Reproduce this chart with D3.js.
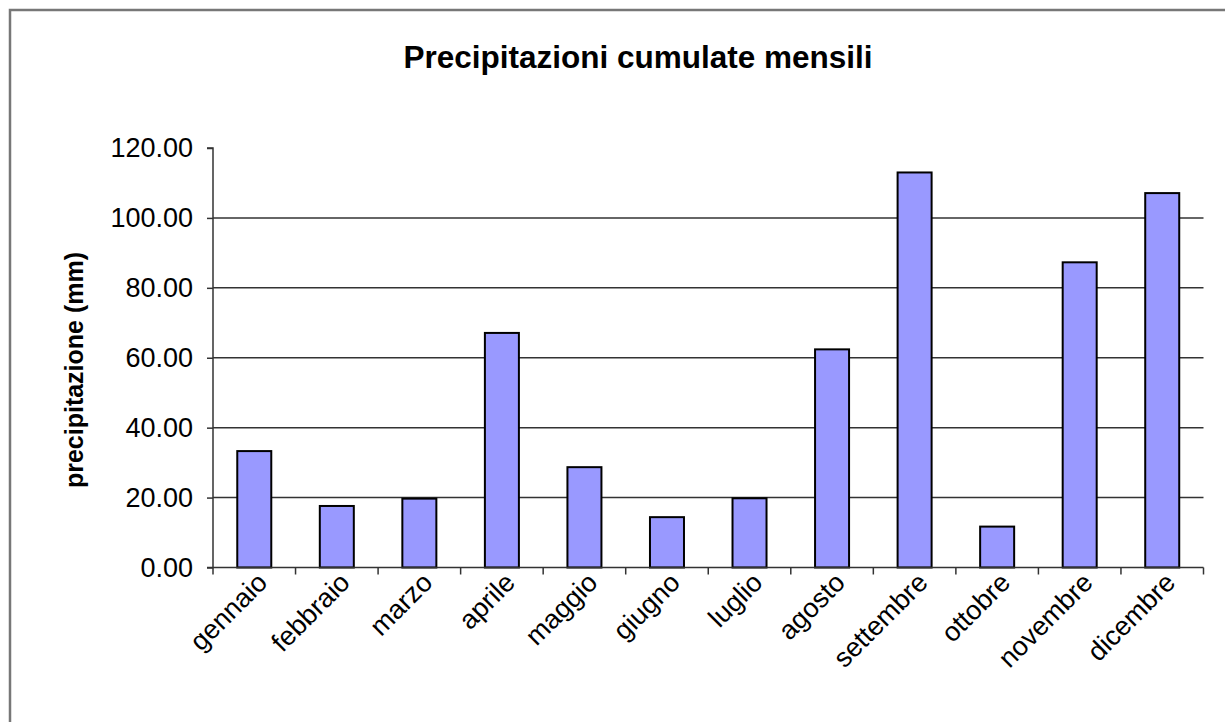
<!DOCTYPE html>
<html>
<head>
<meta charset="utf-8">
<script src="https://cdn.jsdelivr.net/npm/d3@7"></script>
<style>
  html, body { margin: 0; padding: 0; background: #fff; }
  svg { display: block; font-family: "Liberation Sans", Arial, sans-serif; }
</style>
</head>
<body>
<svg id="chart" width="1225" height="722"></svg>
<script>
const months = ["gennaio","febbraio","marzo","aprile","maggio","giugno","luglio","agosto","settembre","ottobre","novembre","dicembre"];
const precipitation = [33.3, 17.6, 19.7, 67.1, 28.7, 14.4, 19.8, 62.4, 113.0, 11.7, 87.3, 107.1];
const yTicks = [0, 20, 40, 60, 80, 100, 120];
const title = "Precipitazioni cumulate mensili";
const yTitle = "precipitazione (mm)";

const svg = d3.select("#chart");
const margin = { left: 213, right: 1203.5, top: 148, bottom: 567.5 };

// outer frame (only top & left visible in reference)
svg.append("path")
  .attr("d", `M10,722 L10,10 L1225,10`)
  .attr("fill", "none").attr("stroke", "#777").attr("stroke-width", 2.5);

const x = d3.scaleBand().domain(months).range([margin.left, margin.right]).paddingInner(0.588).paddingOuter(0.294);
const xTicksScale = d3.scaleBand().domain(months).range([margin.left, margin.right]);
const y = d3.scaleLinear().domain([0, 120]).range([margin.bottom, margin.top]);

// gridlines
svg.append("g").selectAll("line").data(yTicks.filter(d => d > 0 && d < 120)).join("line")
  .attr("x1", margin.left).attr("x2", margin.right)
  .attr("y1", d => y(d)).attr("y2", d => y(d))
  .attr("stroke", "#333").attr("stroke-width", 1.5);

// bars
svg.append("g").selectAll("rect").data(precipitation).join("rect")
  .attr("x", (d, i) => x(months[i]))
  .attr("y", d => y(d))
  .attr("width", x.bandwidth())
  .attr("height", d => y(0) - y(d))
  .attr("fill", "#9999FF").attr("stroke", "#000").attr("stroke-width", 2);

// y axis
const yAxis = d3.axisLeft(y).tickValues(yTicks).tickFormat(d3.format(".2f")).tickSize(6).tickPadding(14);
const gy = svg.append("g").attr("transform", `translate(${margin.left},0)`).call(yAxis);
gy.select(".domain").attr("stroke", "#333").attr("stroke-width", 1.5).attr("d", `M-6,${margin.top}H0V${margin.bottom}H-6`);
gy.selectAll(".tick line").attr("stroke", "#333").attr("stroke-width", 1.5);
gy.selectAll(".tick text").attr("font-size", 27).attr("fill", "#000").attr("font-family", "Liberation Sans, Arial, sans-serif");

// x axis line & ticks at band boundaries
const gx = svg.append("g");
gx.append("line").attr("x1", margin.left).attr("x2", margin.right)
  .attr("y1", margin.bottom).attr("y2", margin.bottom)
  .attr("stroke", "#333").attr("stroke-width", 1.5);
const boundaries = months.map(m => xTicksScale(m)).concat([margin.right]);
gx.selectAll("line.tk").data(boundaries).join("line").attr("class", "tk")
  .attr("x1", d => d).attr("x2", d => d)
  .attr("y1", margin.bottom).attr("y2", margin.bottom + 7)
  .attr("stroke", "#333").attr("stroke-width", 1.5);

// x labels rotated
gx.selectAll("text").data(months).join("text")
  .attr("transform", d => `translate(${xTicksScale(d) + xTicksScale.bandwidth() / 2 + 8},${margin.bottom + 10}) rotate(-45)`)
  .attr("text-anchor", "end")
  .attr("dy", "0.35em")
  .attr("font-size", 27)
  .attr("fill", "#000")
  .text(d => d);

// title
svg.append("text").attr("x", 638).attr("y", 68).attr("text-anchor", "middle")
  .attr("font-size", 31.5).attr("font-weight", "bold").attr("fill", "#000").text(title);

// y title
svg.append("text").attr("transform", `translate(83,370) rotate(-90)`)
  .attr("text-anchor", "middle").attr("font-size", 25).attr("font-weight", "bold").attr("fill", "#000").text(yTitle);
</script>
</body>
</html>
